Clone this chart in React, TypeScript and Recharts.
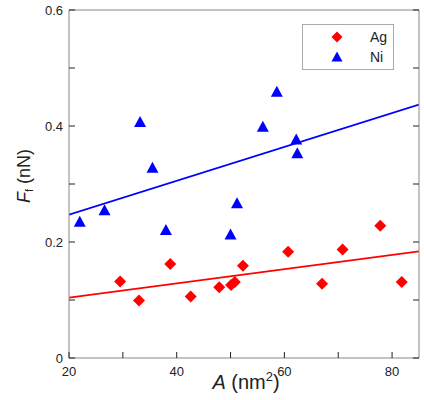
import { ComposedChart, Scatter, Line, XAxis, YAxis, Legend, Label } from 'recharts';

// Ag (diamonds)
const agX = [29.5, 33.0, 38.8, 42.6, 47.9, 50.1, 50.8, 52.3, 60.7, 67.0, 70.8, 77.8, 81.8];
const agY = [0.132, 0.099, 0.162, 0.106, 0.122, 0.126, 0.131, 0.159, 0.183, 0.128, 0.187, 0.228, 0.131];

// Ni (triangles)
const niX = [22.0, 26.6, 33.2, 35.5, 38.0, 50.0, 51.2, 56.0, 58.6, 62.2, 62.4];
const niY = [0.234, 0.254, 0.406, 0.327, 0.220, 0.212, 0.266, 0.398, 0.458, 0.376, 0.352];

// linear fits, end points
const fitX = [20, 85];
const agFitY = [0.104, 0.184];
const niFitY = [0.247, 0.437];

const xTicks = [20, 30, 40, 50, 60, 70, 80];
const yTicks = [0, 0.1, 0.2, 0.3, 0.4, 0.5, 0.6];
const xLabelled = [20, 40, 60, 80];
const yLabelled = [0, 0.2, 0.4, 0.6];

const agData = agX.map((x, i) => ({ x, y: agY[i] }));
const niData = niX.map((x, i) => ({ x, y: niY[i] }));
const agFit = fitX.map((x, i) => ({ x, y: agFitY[i] }));
const niFit = fitX.map((x, i) => ({ x, y: niFitY[i] }));

const FONT = '"Liberation Sans", Arial, Helvetica, sans-serif';
const TXT = '#222';
const FRAME = '#888';

const Diamond = (props: any) => {
  const { cx, cy, fill } = props;
  const r = 6;
  return <polygon points={`${cx},${cy - r} ${cx + r},${cy} ${cx},${cy + r} ${cx - r},${cy}`} fill={fill} />;
};

const Triangle = (props: any) => {
  const { cx, cy, fill } = props;
  return <polygon points={`${cx},${cy - 6.5} ${cx + 6},${cy + 4.5} ${cx - 6},${cy + 4.5}`} fill={fill} />;
};

const BottomTick = (props: any) => {
  const { x, y, payload } = props;
  const v = payload.value;
  return (
    <g>
      <line x1={x} y1={y} x2={x} y2={y - 6} stroke={TXT} />
      {xLabelled.includes(v) && (
        <text x={x} y={y + 18} textAnchor="middle" fontSize={13} fontFamily={FONT} fill={TXT}>{v}</text>
      )}
    </g>
  );
};

const TopTick = (props: any) => {
  const { x, y } = props;
  return <line x1={x} y1={y} x2={x} y2={y + 6} stroke={TXT} />;
};

const LeftTick = (props: any) => {
  const { x, y, payload } = props;
  const v = payload.value;
  return (
    <g>
      <line x1={x} y1={y} x2={x + 6} y2={y} stroke={TXT} />
      {yLabelled.some((t) => Math.abs(t - v) < 1e-9) && (
        <text x={x - 6} y={y + 4.5} textAnchor="end" fontSize={13} fontFamily={FONT} fill={TXT}>{v}</text>
      )}
    </g>
  );
};

const RightTick = (props: any) => {
  const { x, y } = props;
  return <line x1={x} y1={y} x2={x - 6} y2={y} stroke={TXT} />;
};

const XTitle = (props: any) => {
  const { viewBox } = props;
  const cx = viewBox.x + viewBox.width / 2;
  return (
    <text x={cx + 2} y={389} textAnchor="middle" fontSize={20} fontFamily={FONT} fill={TXT}>
      <tspan fontStyle="italic">A</tspan>
      <tspan> (nm</tspan>
      <tspan fontSize={13} dy={-8}>2</tspan>
      <tspan dy={8}>)</tspan>
    </text>
  );
};

const YTitle = (props: any) => {
  const { viewBox } = props;
  const cy = viewBox.y + viewBox.height / 2;
  return (
    <text transform={`translate(30,${cy - 8}) rotate(-90)`} textAnchor="middle" fontSize={18} fontFamily={FONT} fill={TXT}>
      <tspan fontStyle="italic">F</tspan>
      <tspan fontSize={11} dy={3}>f</tspan>
      <tspan dy={-3}> (nN)</tspan>
    </text>
  );
};

const LegendBox = () => (
  <div
    style={{
      width: 90,
      height: 44,
      border: '1px solid #aaa',
      background: '#fff',
      fontFamily: FONT,
      fontSize: 14,
      color: TXT,
      position: 'relative',
    }}
  >
    {[
      { name: 'Ag', color: '#ff0000', shape: 'diamond' },
      { name: 'Ni', color: '#0000ff', shape: 'triangle' },
    ].map((e, i) => (
      <div key={e.name} style={{ position: 'absolute', left: 0, top: 2 + i * 20, height: 20, width: 90 }}>
        <svg width={14} height={14} style={{ position: 'absolute', left: 27, top: 3 }}>
          {e.shape === 'diamond' ? (
            <polygon points="7,1.5 12.5,7 7,12.5 1.5,7" fill={e.color} />
          ) : (
            <polygon points="7,1.5 12.5,11.5 1.5,11.5" fill={e.color} />
          )}
        </svg>
        <span style={{ position: 'absolute', left: 67, top: 1, lineHeight: '18px' }}>{e.name}</span>
      </div>
    ))}
  </div>
);

export default function App() {
  return (
    <div style={{ position: 'absolute', left: 0, top: 0, width: 424, height: 400, background: '#fff' }}>
      <ComposedChart width={424} height={400} margin={{ top: 0, right: 0, bottom: 0, left: 0 }}>
        <XAxis
          xAxisId="b"
          dataKey="x"
          type="number"
          domain={[20, 85]}
          ticks={xTicks}
          allowDataOverflow
          height={42}
          tickSize={0}
          tickMargin={0}
          tickLine={false}
          axisLine={{ stroke: FRAME }}
          tick={<BottomTick />}
          interval={0}
        >
          <Label content={<XTitle />} />
        </XAxis>
        <XAxis
          xAxisId="t"
          orientation="top"
          type="number"
          domain={[20, 85]}
          ticks={xTicks}
          allowDataOverflow
          height={10}
          tickSize={0}
          tickMargin={0}
          tickLine={false}
          axisLine={{ stroke: FRAME }}
          tick={<TopTick />}
          interval={0}
        />
        <YAxis
          yAxisId="l"
          type="number"
          domain={[0, 0.6]}
          ticks={yTicks}
          allowDataOverflow
          width={69}
          tickSize={0}
          tickMargin={0}
          tickLine={false}
          axisLine={{ stroke: FRAME }}
          tick={<LeftTick />}
          interval={0}
        >
          <Label content={<YTitle />} />
        </YAxis>
        <YAxis
          yAxisId="r"
          orientation="right"
          type="number"
          domain={[0, 0.6]}
          ticks={yTicks}
          allowDataOverflow
          width={5}
          tickSize={0}
          tickMargin={0}
          tickLine={false}
          axisLine={{ stroke: FRAME }}
          tick={<RightTick />}
          interval={0}
        />
        <Line
          xAxisId="b"
          yAxisId="l"
          data={agFit}
          dataKey="y"
          stroke="#ff0000"
          strokeWidth={1.8}
          dot={false}
          isAnimationActive={false}
          legendType="none"
        />
        <Line
          xAxisId="b"
          yAxisId="l"
          data={niFit}
          dataKey="y"
          stroke="#0000ff"
          strokeWidth={1.8}
          dot={false}
          isAnimationActive={false}
          legendType="none"
        />
        <Scatter xAxisId="b" yAxisId="l" name="Ag" data={agData} dataKey="y" fill="#ff0000" shape={<Diamond />} isAnimationActive={false} />
        <Scatter xAxisId="b" yAxisId="l" name="Ni" data={niData} dataKey="y" fill="#0000ff" shape={<Triangle />} isAnimationActive={false} />
        <Legend
          layout="vertical"
          align="center"
          verticalAlign="middle"
          content={<LegendBox />}
          wrapperStyle={{ top: 24, left: 302, width: 92, height: 46 }}
        />
      </ComposedChart>
    </div>
  );
}
